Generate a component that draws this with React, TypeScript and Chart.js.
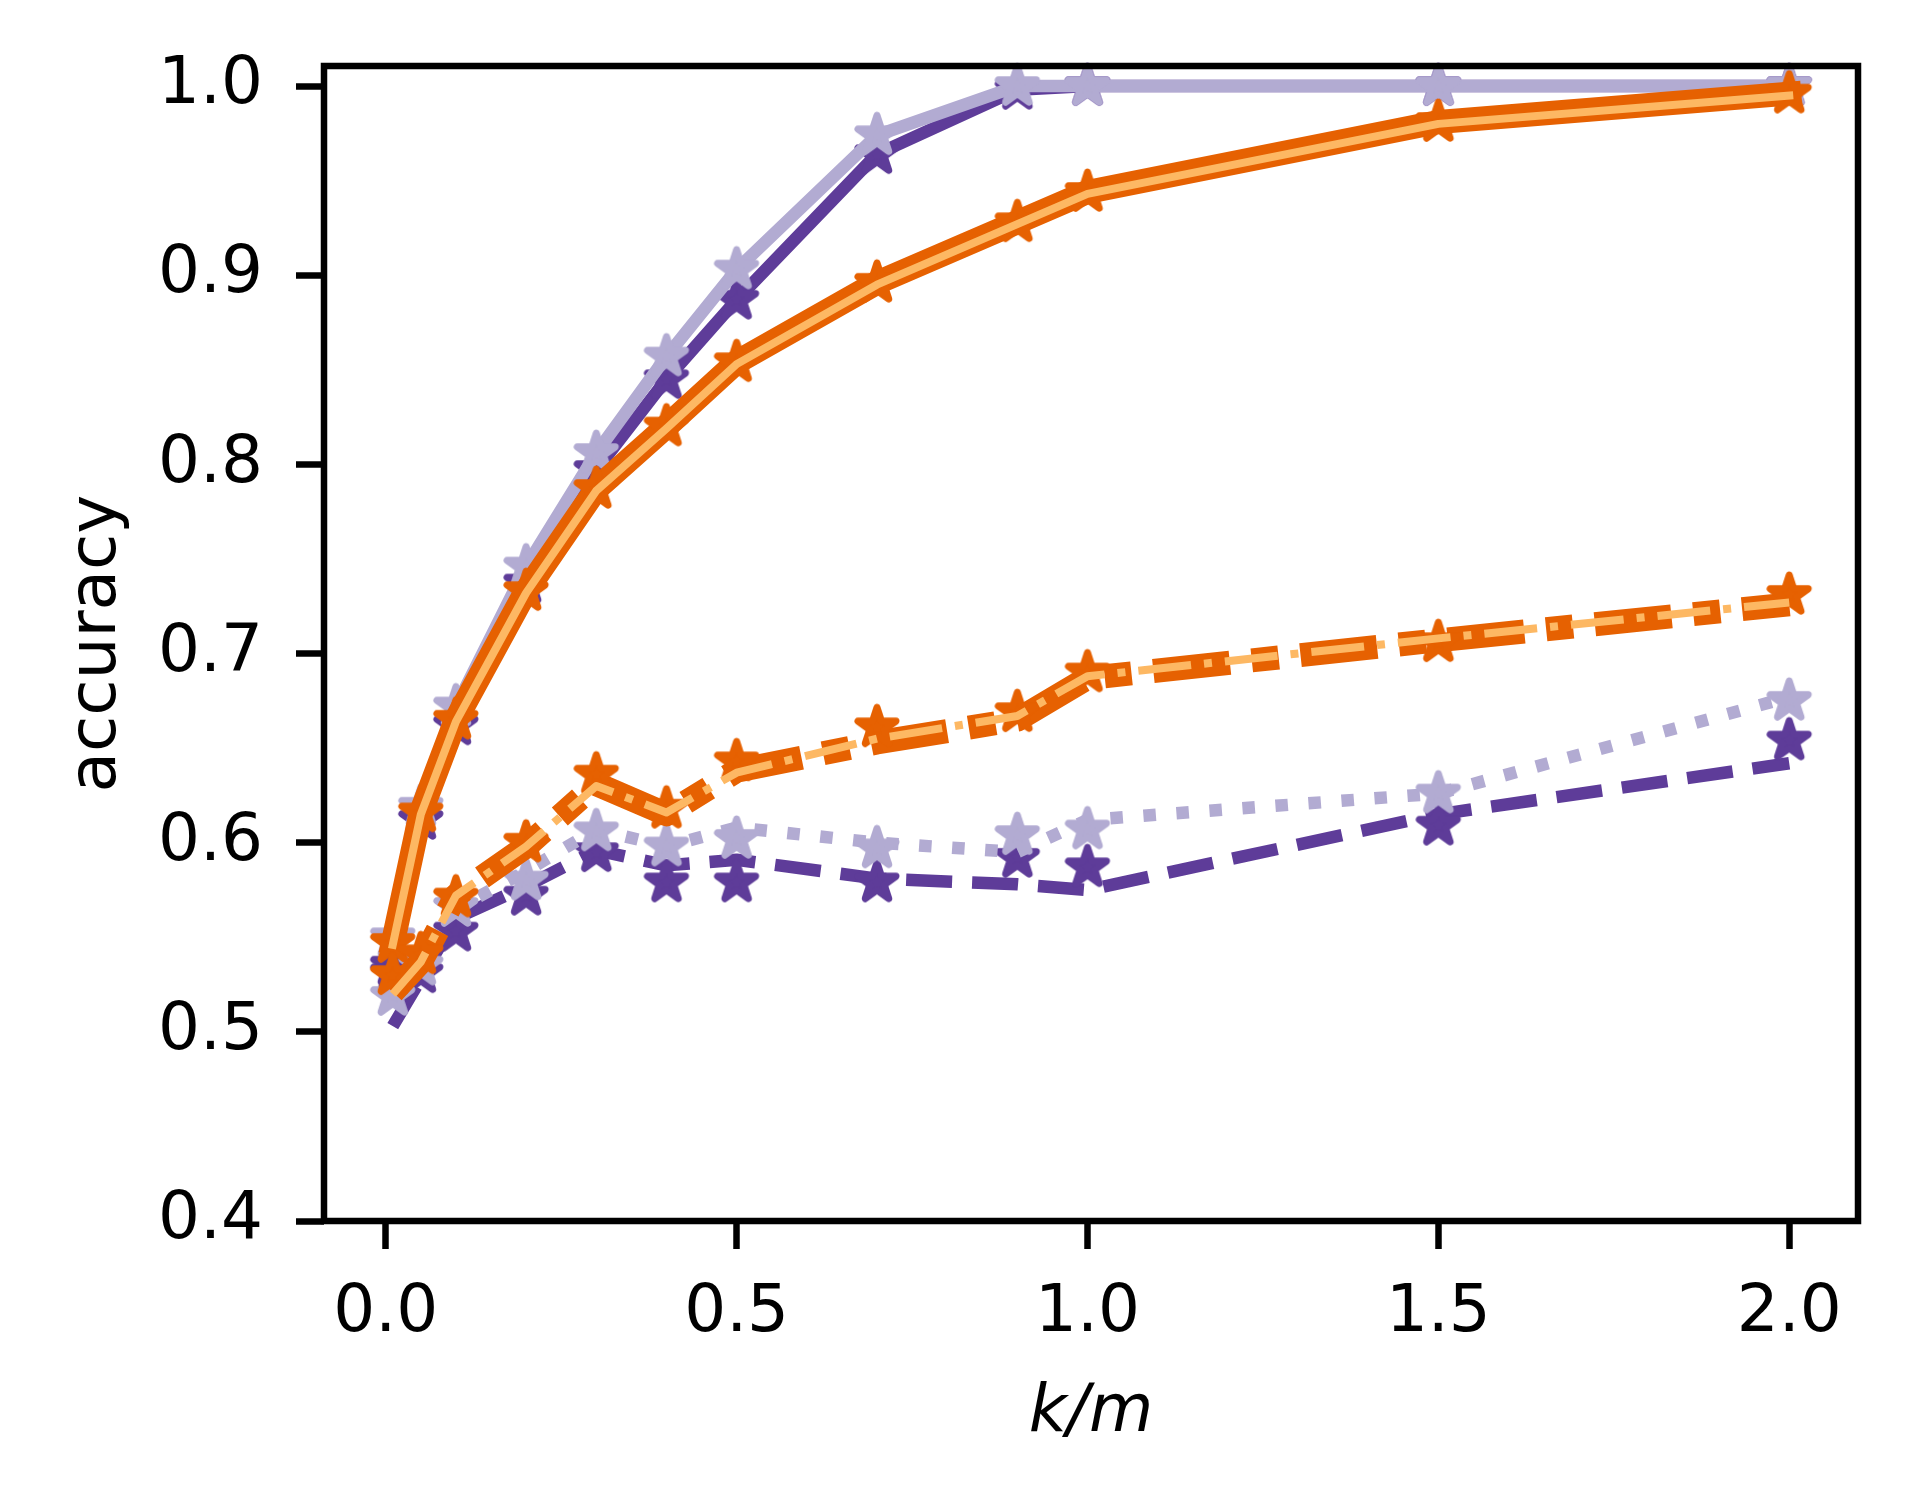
import { useEffect, useRef } from "react";
import { Chart, registerables } from "chart.js";

Chart.register(...registerables);

// k/m ratios on the x axis
const kmRatio = [0.01, 0.05, 0.1, 0.2, 0.3, 0.4, 0.5, 0.7, 0.9, 1.0, 1.5, 2.0];

// upper (solid) curves
const darkPurpleSolid = [0.535, 0.612, 0.662, 0.737, 0.797, 0.845, 0.887, 0.964, 0.998, 1.0, 1.0, 1.0];
const lightPurpleSolid = [0.55, 0.619, 0.672, 0.746, 0.806, 0.857, 0.903, 0.974, 1.0, 1.0, 1.0, 1.0];
const orangeSolid = [0.547, 0.616, 0.665, 0.733, 0.787, 0.82, 0.854, 0.896, 0.928, 0.944, 0.981, 0.996];
const lightOrangeSolid = [0.546, 0.615, 0.664, 0.732, 0.786, 0.819, 0.853, 0.895, 0.927, 0.943, 0.98, 0.995];

// lower curves: line values and marker values
const darkPurpleDashed = [0.503, 0.528, 0.56, 0.577, 0.596, 0.588, 0.591, 0.581, 0.578, 0.575, 0.615, 0.642];
const darkPurpleDashedMarks = [0.531, 0.531, 0.553, 0.572, 0.595, 0.579, 0.579, 0.579, 0.592, 0.587, 0.609, 0.654];
const lightPurpleDotted = [0.52, 0.537, 0.565, 0.585, 0.607, 0.598, 0.608, 0.6, 0.595, 0.612, 0.626, 0.677];
const lightPurpleDottedMarks = [0.519, 0.535, 0.566, 0.58, 0.606, 0.598, 0.602, 0.597, 0.604, 0.607, 0.626, 0.675];
const orangeDashed = [0.521, 0.537, 0.572, 0.598, 0.631, 0.615, 0.638, 0.653, 0.665, 0.687, 0.707, 0.726];
const orangeDashedMarks = [0.53, 0.541, 0.571, 0.6, 0.636, 0.618, 0.643, 0.661, 0.669, 0.69, 0.706, 0.731];
const lightOrangeDashDot = [0.52, 0.537, 0.572, 0.598, 0.63, 0.616, 0.637, 0.655, 0.667, 0.688, 0.708, 0.727];

const xTicks = [0, 0.5, 1.0, 1.5, 2.0];
const yTicks = [0.4, 0.5, 0.6, 0.7, 0.8, 0.9, 1.0];

const DARK_PURPLE = "#5e3c99";
const LIGHT_PURPLE = "#b2abd2";
const ORANGE = "#e66101";
const LIGHT_ORANGE = "#fdb863";
const FONT = "'DejaVu Sans', sans-serif";

function makeStar(color: string) {
  const c = document.createElement("canvas");
  c.width = 56;
  c.height = 56;
  const ctx = c.getContext("2d")!;
  const R = 20;
  const r = R * 0.381966;
  ctx.beginPath();
  for (let i = 0; i < 10; i++) {
    const rad = i % 2 === 0 ? R : r;
    const a = -Math.PI / 2 + (i * Math.PI) / 5;
    const px = 28 + rad * Math.cos(a);
    const py = 28 + rad * Math.sin(a);
    if (i === 0) ctx.moveTo(px, py);
    else ctx.lineTo(px, py);
  }
  ctx.closePath();
  ctx.fillStyle = color;
  ctx.fill();
  ctx.lineWidth = 7;
  ctx.lineJoin = "round";
  ctx.strokeStyle = color;
  ctx.stroke();
  return c;
}

const pts = (ys: number[]) => kmRatio.map((x, i) => ({ x, y: ys[i] }));

const framePlugin = {
  id: "frame",
  afterDatasetsDraw(chart: any) {
    const { ctx, chartArea: a } = chart;
    ctx.save();
    ctx.strokeStyle = "#000";
    ctx.lineWidth = 6.5;
    ctx.strokeRect(a.left, a.top, a.right - a.left, a.bottom - a.top);
    ctx.restore();
  },
};

export default function App() {
  const chartRef = useRef<HTMLCanvasElement>(null);
  const chartInstance = useRef<Chart | null>(null);

  useEffect(() => {
    if (!chartRef.current) return;
    if (chartInstance.current) chartInstance.current.destroy();

    const stars = {
      dark: makeStar(DARK_PURPLE),
      light: makeStar(LIGHT_PURPLE),
      orange: makeStar(ORANGE),
    };

    // datasets listed bottom -> top, order is assigned below
    const series: any[] = [];
    const line = (ys: number[], color: string, width: number, dash: number[], star?: HTMLCanvasElement) =>
      series.push({
        data: pts(ys),
        borderColor: color,
        backgroundColor: color,
        borderWidth: width,
        borderDash: dash,
        borderCapStyle: dash.length ? "butt" : "square",
        borderJoinStyle: "round",
        pointRadius: star ? 3 : 0,
        pointStyle: star ?? "circle",
        pointHoverRadius: 0,
        tension: 0,
        fill: false,
        showLine: true,
        clip: false,
      });
    const marks = (ys: number[], star: HTMLCanvasElement) =>
      series.push({
        data: pts(ys),
        showLine: false,
        pointRadius: 3,
        pointStyle: star,
        pointHoverRadius: 0,
        clip: false,
      });

    line(darkPurpleSolid, DARK_PURPLE, 12.5, [], stars.dark);
    line(darkPurpleDashed, DARK_PURPLE, 12.5, [46, 20]);
    marks(darkPurpleDashedMarks, stars.dark);
    line(lightPurpleSolid, LIGHT_PURPLE, 12.5, [], stars.light);
    line(lightPurpleDotted, LIGHT_PURPLE, 12.5, [12.5, 20.6]);
    marks(lightPurpleDottedMarks, stars.light);
    line(orangeSolid, ORANGE, 24, [], stars.orange);
    line(orangeDashed, ORANGE, 24, [77, 22, 27, 22]);
    marks(orangeDashedMarks, stars.orange);
    line(lightOrangeSolid, LIGHT_ORANGE, 8, []);
    line(lightOrangeDashDot, LIGHT_ORANGE, 8, [53, 13, 8, 13]);

    series.forEach((d, i) => (d.order = series.length - i));

    const tickFont = { family: FONT, size: 66 };
    const grid = {
      display: true,
      drawOnChartArea: false,
      drawTicks: true,
      tickLength: 28,
      tickWidth: 6.5,
      tickColor: "#000",
    };

    chartInstance.current = new Chart(chartRef.current, {
      type: "line",
      data: { datasets: series },
      options: {
        responsive: false,
        devicePixelRatio: 1,
        animation: false,
        events: [],
        layout: { padding: { top: 66, right: 60, left: 0, bottom: 0 } },
        plugins: { legend: { display: false }, tooltip: { enabled: false } },
        scales: {
          x: {
            type: "linear",
            min: -0.088,
            max: 2.098,
            afterBuildTicks: (s: any) => {
              s.ticks = xTicks.map((v) => ({ value: v }));
            },
            afterFit: (s: any) => {
              s.height = 284;
              s.paddingLeft = 0;
              s.paddingRight = 0;
            },
            ticks: {
              callback: (v: any) => Number(v).toFixed(1),
              font: tickFont,
              color: "#000",
              padding: 25,
              maxRotation: 0,
              autoSkip: false,
            },
            grid,
            border: { display: false },
            title: {
              display: true,
              text: "k/m",
              color: "#000",
              font: { family: FONT, size: 66, style: "italic" },
              padding: { top: 0, bottom: 52 },
            },
          },
          y: {
            type: "linear",
            min: 0.4,
            max: 1.0106,
            afterBuildTicks: (s: any) => {
              s.ticks = yTicks.map((v) => ({ value: v }));
            },
            afterFit: (s: any) => {
              s.width = 324;
              s.paddingTop = 0;
              s.paddingBottom = 0;
            },
            ticks: {
              callback: (v: any) => Number(v).toFixed(1),
              font: tickFont,
              color: "#000",
              padding: 33,
              autoSkip: false,
            },
            grid,
            border: { display: false },
            title: {
              display: true,
              text: "accuracy",
              color: "#000",
              font: { family: FONT, size: 66 },
              padding: { top: 58, bottom: 0 },
            },
          },
        },
      },
      plugins: [framePlugin],
    } as any);

    return () => {
      if (chartInstance.current) {
        chartInstance.current.destroy();
        chartInstance.current = null;
      }
    };
  }, []);

  return (
    <div style={{ position: "fixed", left: 0, top: 0, width: 1918, height: 1505, background: "#fff" }}>
      <canvas ref={chartRef} width={1918} height={1505} style={{ display: "block" }} />
    </div>
  );
}
